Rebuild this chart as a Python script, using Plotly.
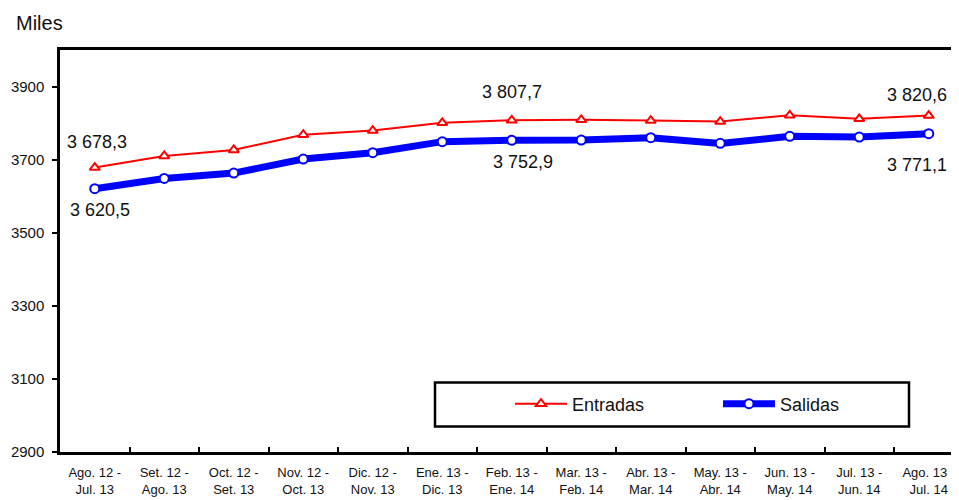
import plotly.graph_objects as go

categories = ["Ago. 12 -<br>Jul. 13", "Set. 12 -<br>Ago. 13", "Oct. 12 -<br>Set. 13",
              "Nov. 12 -<br>Oct. 13", "Dic. 12 -<br>Nov. 13", "Ene. 13 -<br>Dic. 13",
              "Feb. 13 -<br>Ene. 14", "Mar. 13 -<br>Feb. 14", "Abr. 13 -<br>Mar. 14",
              "May. 13 -<br>Abr. 14", "Jun. 13 -<br>May. 14", "Jul. 13 -<br>Jun. 14",
              "Ago. 13 -<br>Jul. 14"]
entradas = [3678.3, 3710.2, 3726.6, 3768.1, 3779.5, 3800.6, 3807.7,
            3808.8, 3806.9, 3804.2, 3821.4, 3811.6, 3820.6]
salidas = [3620.5, 3648.6, 3663.2, 3701.5, 3719.1, 3749.2, 3752.9,
           3753.6, 3760.1, 3744.5, 3763.7, 3761.9, 3771.1]
y_ticks = [2900, 3100, 3300, 3500, 3700, 3900]

FONT = "Liberation Sans, Arial, sans-serif"
OFF = 8                      # default page body margin
W, H = 959 - OFF, 500 - OFF
PLOT_L, PLOT_T, PLOT_B, PLOT_R = 60, 50, 452, 959   # page pixel box
L = PLOT_L - OFF
T = PLOT_T - OFF
B = (H + OFF) - PLOT_B
PW = PLOT_R - PLOT_L
PH = PLOT_B - PLOT_T


def fmt(v):
    s = f"{v:,.1f}"
    return s.replace(",", " ").replace(".", ",")


def px_x(p):
    return (p - PLOT_L) / PW


def px_y(p):
    return (PLOT_B - p) / PH


x = list(range(len(categories)))

fig = go.Figure()
fig.add_trace(go.Scatter(
    x=x, y=entradas, name="Entradas", mode="lines+markers",
    line=dict(color="#ff0000", width=2),
    marker=dict(symbol="triangle-up", size=9, color="white",
                line=dict(color="#ff0000", width=2)),
))
fig.add_trace(go.Scatter(
    x=x, y=salidas, name="Salidas", mode="lines+markers",
    line=dict(color="#0000ff", width=7),
    marker=dict(symbol="circle", size=9, color="white",
                line=dict(color="#0000ff", width=2)),
))

annotations = []
label_specs = [
    (entradas, 0, 2, 26), (salidas, 0, 5, -21),
    (entradas, 6, 0, 28), (salidas, 6, 11, -22),
    (entradas, 12, -12, 21), (salidas, 12, -12, -31),
]
for series, i, dx, dy in label_specs:
    annotations.append(dict(
        x=i, y=series[i], xref="x", yref="y", text=fmt(series[i]),
        showarrow=False, xshift=dx, yshift=dy,
        font=dict(family=FONT, size=18, color="#111111"),
        xanchor="center", yanchor="middle",
    ))
annotations.append(dict(
    x=px_x(14), y=px_y(23), xref="paper", yref="paper", text="Miles",
    showarrow=False, xanchor="left", yanchor="middle",
    font=dict(family=FONT, size=20, color="#111111"),
))

fig.update_layout(
    width=W, height=H,
    margin=dict(l=L, r=0, t=T, b=B, autoexpand=False),
    paper_bgcolor="white", plot_bgcolor="white",
    font=dict(family=FONT, color="#111111"),
    showlegend=True,
    legend=dict(
        orientation="h", x=px_x(510), y=px_y(404),
        xanchor="left", yanchor="middle",
        bgcolor="rgba(0,0,0,0)", borderwidth=0,
        font=dict(family=FONT, size=18, color="#111111"),
        entrywidth=141, itemwidth=52,
    ),
    annotations=annotations,
    shapes=[dict(
        type="rect", xref="paper", yref="paper",
        x0=px_x(435), x1=px_x(909), y0=px_y(426.5), y1=px_y(382.5),
        line=dict(color="black", width=2.5), fillcolor="white", layer="below",
    )],
    xaxis=dict(
        range=[-0.5, PW / 69.5 - 0.5],
        tickmode="array", tickvals=x, ticktext=categories,
        showline=True, linecolor="black", linewidth=2.5, mirror=True,
        ticks="", showgrid=False, zeroline=False, automargin=False,
        ticklabelstandoff=7, ticklabeloverflow="allow",
        tickfont=dict(family=FONT, size=13, color="#111111"),
        minor=dict(tickmode="array", tickvals=[i + 0.5 for i in x[:-1]],
                   ticks="inside", ticklen=5, tickwidth=2, tickcolor="black"),
    ),
    yaxis=dict(
        range=[2900, 4000], tickmode="array", tickvals=y_ticks,
        showline=True, linecolor="black", linewidth=2.5, mirror=False,
        ticks="outside", ticklen=5, tickwidth=1.5, tickcolor="black",
        showgrid=False, zeroline=False, automargin=False,
        ticklabelstandoff=5,
        tickfont=dict(family=FONT, size=15, color="#111111"),
    ),
)

fig.write_html("out.html")
